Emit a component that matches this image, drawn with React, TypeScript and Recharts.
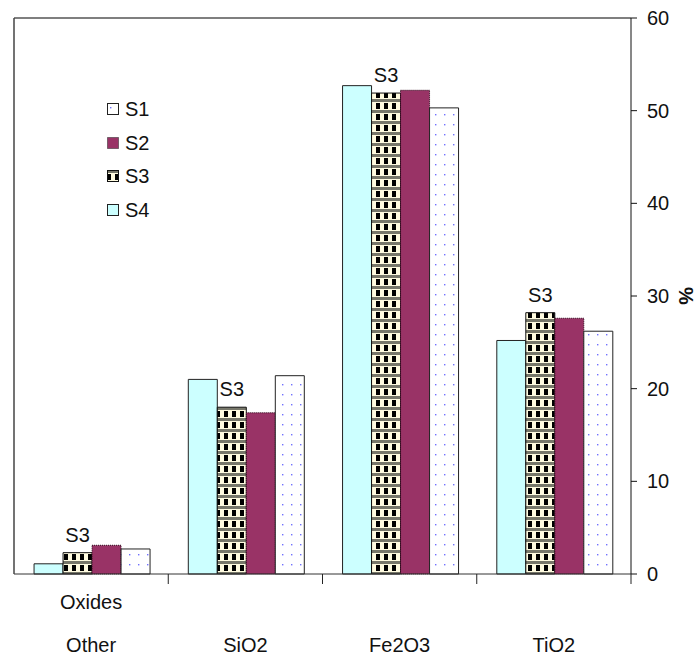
import React from "react"
import { BarChart, Bar, XAxis, YAxis, Legend, LabelList } from "recharts"

const categories = ["Other", "SiO2", "Fe2O3", "TiO2"]
const upperLabels = ["Oxides", "", "", ""]

// bars appear in the order S4, S3, S2, S1 within each group
const s1 = [2.7, 21.4, 50.3, 26.2]
const s2 = [3.1, 17.4, 52.2, 27.6]
const s3 = [2.3, 18.0, 51.9, 28.2]
const s4 = [1.1, 21.0, 52.7, 25.2]

const yTicks = [0, 10, 20, 30, 40, 50, 60]

const legendItems = [
  { name: "S1", fill: "url(#dotsS1)", stroke: "#222", dash: undefined },
  { name: "S2", fill: "#993366", stroke: "#222", dash: "1 1" },
  { name: "S3", fill: "url(#checkS3)", stroke: "#111", dash: undefined },
  { name: "S4", fill: "#ccffff", stroke: "#222", dash: undefined },
]

const data = categories.map((c, i) => ({
  name: c,
  S1: s1[i],
  S2: s2[i],
  S3: s3[i],
  S4: s4[i],
}))

const FONT = "'Liberation Sans', Arial, sans-serif"
const FS = 20

function CategoryTick(props: any) {
  const { x, y, index, payload, width, visibleTicksCount } = props
  // tick marks sit on the category boundaries (half a band right of the centre)
  const half = payload.offset != null && payload.offset > 0 ? payload.offset : width / (visibleTicksCount || 4) / 2
  return (
    <g>
      <line x1={x + half} x2={x + half} y1={y} y2={y + 10} stroke="#222" />
      {upperLabels[index] ? (
        <text x={x} y={y + 28} textAnchor="middle" dominantBaseline="central" fontSize={FS} fill="#111" fontFamily={FONT}>
          {upperLabels[index]}
        </text>
      ) : null}
      <text x={x} y={y + 71} textAnchor="middle" dominantBaseline="central" fontSize={FS} fill="#111" fontFamily={FONT}>
        {payload.value}
      </text>
    </g>
  )
}

function PercentLabel(props: any) {
  const { viewBox } = props
  const cx = viewBox.x + viewBox.width - 7
  const cy = viewBox.y + viewBox.height / 2
  return (
    <text x={cx} y={cy} textAnchor="middle" dominantBaseline="central" fontSize={FS} fontWeight="bold" fill="#111" fontFamily={FONT} transform={`rotate(90 ${cx} ${cy})`}>
      %
    </text>
  )
}

function LegendBox() {
  return (
    <div style={{ fontFamily: FONT, fontSize: FS, color: "#111" }}>
      {legendItems.map((it) => (
        <div key={it.name} style={{ display: "flex", alignItems: "center", height: 33.5 }}>
          <svg width={13} height={13} style={{ marginRight: 5 }}>
            <rect x={0.5} y={0.5} width={11} height={11} fill={it.fill} stroke={it.stroke} strokeDasharray={it.dash} />
          </svg>
          <span>{it.name}</span>
        </div>
      ))}
    </div>
  )
}

export default function App() {
  return (
    <div style={{ position: "absolute", left: 0, top: 0, width: 698, height: 660, background: "#fff", fontFamily: FONT }}>
      <BarChart
        width={698}
        height={660}
        data={data}
        margin={{ top: 17, left: 13, right: 5, bottom: 85 }}
        barCategoryGap="13%"
        barGap={0}
      >
        <defs>
          <pattern id="dotsS1" width={9} height={10} patternUnits="userSpaceOnUse">
            <rect width={9} height={10} fill="#ffffff" />
            <rect x={3} y={4} width={1.4} height={1.4} fill="#7070ff" />
          </pattern>
          <pattern id="checkS3" width={8} height={11} patternUnits="userSpaceOnUse">
            <rect width={8} height={11} fill="#fffbe0" />
            <rect x={0} y={0} width={8} height={3} fill="#77776a" />
            <rect x={0} y={4} width={4} height={6} fill="#000" />
          </pattern>
        </defs>
        <XAxis xAxisId="top" orientation="top" type="number" domain={[0, 1]} height={1} tick={false} tickLine={false} axisLine={{ stroke: "#555", strokeWidth: 1.5 }} />
        <XAxis
          dataKey="name"
          height={1}
          tickLine={false}
          tickSize={0}
          tickMargin={0}
          axisLine={{ stroke: "#333" }}
          tick={<CategoryTick />}
          interval={0}
        />
        <YAxis yAxisId="frame" orientation="left" width={1} tick={false} tickLine={false} axisLine={{ stroke: "#444", strokeWidth: 1.5 }} />
        <YAxis
          yAxisId="pct"
          orientation="right"
          width={62}
          domain={[0, 60]}
          ticks={yTicks}
          tickSize={6}
          tickMargin={10}
          tick={{ fill: "#111", fontSize: FS, fontFamily: FONT, textAnchor: "start" }}
          tickLine={{ stroke: "#111" }}
          axisLine={{ stroke: "#111" }}
          label={<PercentLabel />}
        />
        <Legend layout="horizontal" verticalAlign="middle" align="center" wrapperStyle={{ left: 107, top: 93, width: 60 }} content={<LegendBox />} />
        <Bar yAxisId="pct" dataKey="S4" fill="#ccffff" stroke="#222" isAnimationActive={false} />
        <Bar yAxisId="pct" dataKey="S3" fill="url(#checkS3)" stroke="#111" isAnimationActive={false}>
          <LabelList dataKey="S3" position="top" offset={11} formatter={() => "S3"} fill="#111" fontSize={FS} fontFamily={FONT} />
        </Bar>
        <Bar yAxisId="pct" dataKey="S2" fill="#993366" stroke="#2a0015" strokeDasharray="1 1" isAnimationActive={false} />
        <Bar yAxisId="pct" dataKey="S1" fill="url(#dotsS1)" stroke="#222" isAnimationActive={false} />
      </BarChart>
    </div>
  )
}
